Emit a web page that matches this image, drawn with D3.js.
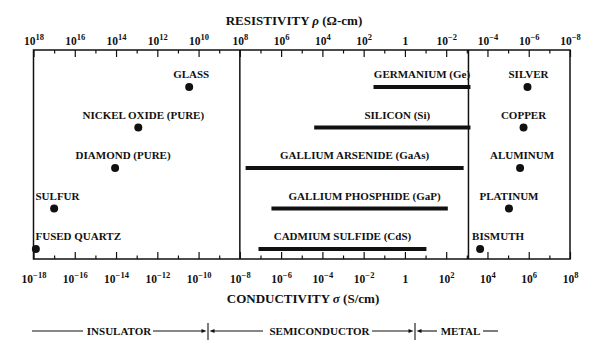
<!DOCTYPE html>
<html>
<head>
<meta charset="utf-8">
<script src="https://cdn.jsdelivr.net/npm/d3@7/dist/d3.min.js"></script>
<style>
  body { margin: 0; background: #fff; }
  svg text { font-family: 'Liberation Serif', 'DejaVu Serif', serif; fill: #111; }
</style>
</head>
<body>
<svg id="svgCond"></svg>
<script>
// DATA ////////////////////////////////////////////////////////////////////////

// conductivity in S/cm
var insulatorNames = ["GLASS", "NICKEL OXIDE (PURE)", "DIAMOND (PURE)", "SULFUR", "FUSED QUARTZ"];
var insulatorSigma = [3.5e-11, 1.2e-13, 9e-15, 1e-17, 1.3e-18];

var semiNames = ["GERMANIUM (Ge)", "SILICON (Si)", "GALLIUM ARSENIDE (GaAs)", "GALLIUM PHOSPHIDE (GaP)", "CADMIUM SULFIDE (CdS)"];
var semiLow = [3e-2, 4e-5, 1.9e-8, 3.4e-7, 8e-8];
var semiHigh = [1.5e3, 1.5e3, 7e2, 1.2e2, 1.1e1];

var metalNames = ["SILVER", "COPPER", "ALUMINUM", "PLATINUM", "BISMUTH"];
var metalSigma = [8.7e5, 5.6e5, 3.8e5, 1.1e5, 4.4e3];

// insulator | semiconductor | metal boundaries
var classBounds = [1e-8, 1.2e3];

// decade exponents for the conductivity axis (resistivity is the negative)
var decades = [-18, -17, -16, -15, -14, -13, -12, -11, -10, -9, -8, -7, -6, -5, -4, -3, -2, -1, 0, 1, 2, 3, 4, 5, 6, 7, 8];
var resDecades = [18, 17, 16, 15, 14, 13, 12, 11, 10, 9, 8, 7, 6, 5, 4, 3, 2, 1, 0, -1, -2, -3, -4, -5, -6, -7, -8];

var classNames = ["INSULATOR", "SEMICONDUCTOR", "METAL"];


// SETUP ///////////////////////////////////////////////////////////////////////

const W = 603, H = 351;
const BOX_LEFT = 33.5, BOX_RIGHT = 570, BOX_TOP = 50, BOX_BOTTOM = 259;
const ROW_TOP = 87, ROW_BOTTOM = 249;

var svg = d3.select('#svgCond')
    .attr('width', W)
    .attr('height', H)

svg.append('rect').attr('width', W).attr('height', H).attr('fill', 'white')

var x = d3.scaleLog().domain([1e-18, 1e8]).range([BOX_LEFT, BOX_RIGHT]);
var xRes = d3.scaleLog().domain([1e18, 1e-8]).range([BOX_LEFT, BOX_RIGHT]);
var y = d3.scalePoint().domain([0, 1, 2, 3, 4]).range([ROW_TOP, ROW_BOTTOM]);

function pow10(e) { return Math.pow(10, e); }
function expOf(d) { return Math.round(Math.log10(d)); }
function isMajor(d) { return Math.abs(expOf(d)) % 2 === 0; }

function tickLabel(sel, exponent) {
    sel.text(null);
    if (Math.abs(exponent) % 2 !== 0) return;
    if (exponent === 0) { sel.append('tspan').text('1'); return; }
    sel.append('tspan').text('10');
    sel.append('tspan')
        .attr('dy', -5)
        .style('font-size', '8.5px')
        .text(String(exponent).replace('-', '\u2212'));
}


// AXES ////////////////////////////////////////////////////////////////////////

function drawAxes() {
    // bottom : conductivity
    var gb = svg.append('g')
        .attr('transform', 'translate(0,' + BOX_BOTTOM + ')')
        .call(d3.axisBottom(x)
            .tickValues(decades.map(pow10))
            .tickSize(-7)
            .tickFormat(''))
    gb.select('.domain').remove();
    gb.selectAll('.tick line')
        .attr('stroke', '#111')
        .attr('stroke-width', 1.2)
        .attr('y2', function (d) { return isMajor(d) ? -7 : -3.5 })
    gb.selectAll('.tick text')
        .style('font-size', '11.5px')
        .style('font-weight', 'bold')
        .style('fill', '#111')
        .attr('dy', 0)
        .attr('y', 24)
        .each(function (d) { tickLabel(d3.select(this), expOf(d)) })

    // top : resistivity
    var gt = svg.append('g')
        .attr('transform', 'translate(0,' + BOX_TOP + ')')
        .call(d3.axisTop(xRes)
            .tickValues(resDecades.map(pow10))
            .tickSize(-7)
            .tickFormat(''))
    gt.select('.domain').remove();
    gt.selectAll('.tick line')
        .attr('stroke', '#111')
        .attr('stroke-width', 1.2)
        .attr('y2', function (d) { return isMajor(d) ? 7 : 3.5 })
    gt.selectAll('.tick text')
        .style('font-size', '11.5px')
        .style('font-weight', 'bold')
        .style('fill', '#111')
        .attr('dy', 0)
        .attr('y', -5)
        .each(function (d) { tickLabel(d3.select(this), expOf(d)) })

    // frame
    svg.append('rect')
        .attr('x', BOX_LEFT).attr('y', BOX_TOP)
        .attr('width', BOX_RIGHT - BOX_LEFT).attr('height', BOX_BOTTOM - BOX_TOP)
        .attr('fill', 'none')
        .attr('stroke', '#111')
        .attr('stroke-width', 1.5)

    // class boundaries
    svg.selectAll('.bound')
        .data(classBounds)
        .enter()
        .append('line')
        .attr('x1', function (d) { return x(d) })
        .attr('x2', function (d) { return x(d) })
        .attr('y1', BOX_TOP)
        .attr('y2', BOX_BOTTOM)
        .attr('stroke', '#111')
        .attr('stroke-width', 1.5)

    // titles
    var t1 = svg.append('text')
        .attr('x', 294).attr('y', 25)
        .style('text-anchor', 'middle')
        .style('font-size', '13px')
        .style('font-weight', 'bold')
    t1.append('tspan').text('RESISTIVITY ')
    t1.append('tspan').style('font-style', 'italic').text('\u03C1')
    t1.append('tspan').text(' (\u03A9-cm)')

    var t2 = svg.append('text')
        .attr('x', 303).attr('y', 303)
        .style('text-anchor', 'middle')
        .style('font-size', '13px')
        .style('font-weight', 'bold')
    t2.append('tspan').text('CONDUCTIVITY ')
    t2.append('tspan').style('font-style', 'italic').text('\u03C3')
    t2.append('tspan').text(' (S/cm)')
}


// MARKS ///////////////////////////////////////////////////////////////////////

function drawMarks() {
    var lbl = { fontSize: '11px' };

    // insulators
    var insDx = [2, 5, 8, 0, 0];
    var insLeft = [false, false, false, true, true];
    svg.append('g').selectAll('circle')
        .data(insulatorSigma)
        .enter()
        .append('circle')
        .attr('cx', function (d) { return x(d) })
        .attr('cy', function (d, i) { return y(i) })
        .attr('r', 4)
        .attr('fill', '#111')
    svg.append('g').selectAll('text')
        .data(insulatorNames)
        .enter()
        .append('text')
        .text(function (d) { return d })
        .attr('x', function (d, i) { return insLeft[i] ? BOX_LEFT + 2 : x(insulatorSigma[i]) + insDx[i] })
        .attr('y', function (d, i) { return y(i) - 9 })
        .style('text-anchor', function (d, i) { return insLeft[i] ? 'start' : 'middle' })
        .style('font-size', lbl.fontSize)
        .style('font-weight', 'bold')

    // semiconductors
    var semiDx = [0, 5, 0, 5, 0];
    svg.append('g').selectAll('line')
        .data(semiLow)
        .enter()
        .append('line')
        .attr('x1', function (d) { return x(d) })
        .attr('x2', function (d, i) { return x(semiHigh[i]) })
        .attr('y1', function (d, i) { return y(i) })
        .attr('y2', function (d, i) { return y(i) })
        .attr('stroke', '#111')
        .attr('stroke-width', 4)
    svg.append('g').selectAll('text')
        .data(semiNames)
        .enter()
        .append('text')
        .text(function (d) { return d })
        .attr('x', function (d, i) { return (x(semiLow[i]) + x(semiHigh[i])) / 2 + semiDx[i] })
        .attr('y', function (d, i) { return y(i) - 9 })
        .style('text-anchor', 'middle')
        .style('font-size', lbl.fontSize)
        .style('font-weight', 'bold')

    // metals
    var metDx = [1, 0, 2, 0, -8];
    var metLeft = [false, false, false, false, true];
    svg.append('g').selectAll('circle')
        .data(metalSigma)
        .enter()
        .append('circle')
        .attr('cx', function (d) { return x(d) })
        .attr('cy', function (d, i) { return y(i) })
        .attr('r', 4)
        .attr('fill', '#111')
    svg.append('g').selectAll('text')
        .data(metalNames)
        .enter()
        .append('text')
        .text(function (d) { return d })
        .attr('x', function (d, i) { return x(metalSigma[i]) + metDx[i] })
        .attr('y', function (d, i) { return y(i) - 9 })
        .style('text-anchor', function (d, i) { return metLeft[i] ? 'start' : 'middle' })
        .style('font-size', lbl.fontSize)
        .style('font-weight', 'bold')
}


// CLASS BAND ////////////////////////////////////////////////////////////////

function drawClassBand() {
    var by = 331;
    var g = svg.append('g').attr('stroke', '#111').attr('stroke-width', 1.1)

    // label centres and line pieces (pixels)
    var textX = [119, 319.5, 460.5];
    var segs = [[32, 83], [153, 204], [212, 263], [372, 411], [419, 437], [483, 498]];
    var bars = [208, 415];

    segs.forEach(function (s) {
        g.append('line').attr('x1', s[0]).attr('x2', s[1]).attr('y1', by).attr('y2', by)
    })
    bars.forEach(function (b) {
        g.append('line').attr('x1', b).attr('x2', b).attr('y1', by - 8).attr('y2', by + 9)
        // arrowheads pointing at the bar
        svg.append('path')
            .attr('d', 'M' + (b - 1.5) + ',' + by + 'l-5,-2v4z')
            .attr('fill', '#111')
        svg.append('path')
            .attr('d', 'M' + (b + 1.5) + ',' + by + 'l5,-2v4z')
            .attr('fill', '#111')
    })

    svg.append('g').selectAll('text')
        .data(classNames)
        .enter()
        .append('text')
        .text(function (d) { return d })
        .attr('x', function (d, i) { return textX[i] })
        .attr('y', by + 4)
        .style('text-anchor', 'middle')
        .style('font-size', '11px')
        .style('font-weight', 'bold')
}

drawAxes();
drawMarks();
drawClassBand();
</script>
</body>
</html>
